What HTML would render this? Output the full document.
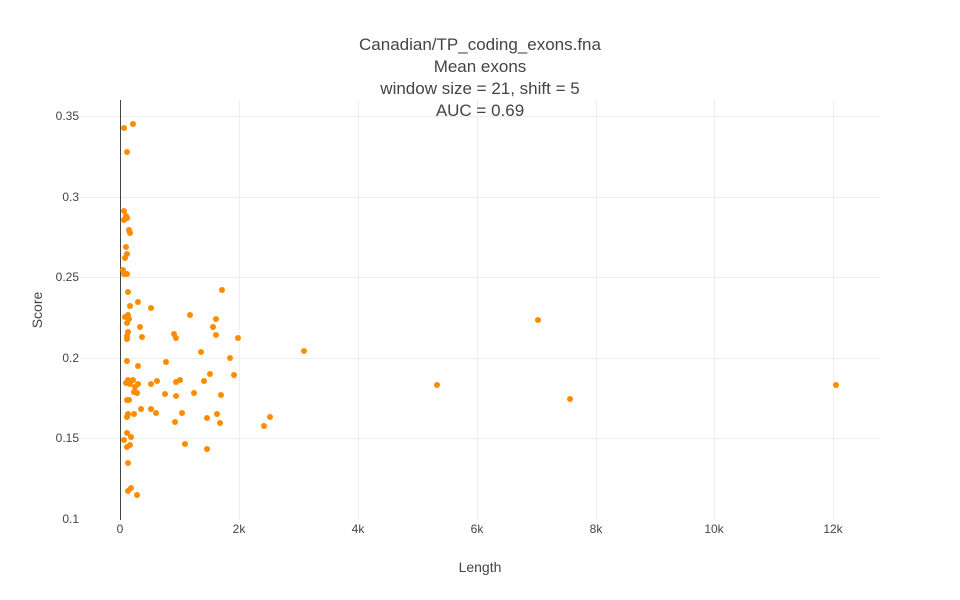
<!DOCTYPE html><html><head><style>body{margin:0;background:#fff}svg{display:block;font-family:"Liberation Sans",sans-serif}</style></head><body>
<svg width="960" height="600" xmlns="http://www.w3.org/2000/svg">
<g stroke="#eee" stroke-width="1">
<line x1="80" x2="880" y1="116.5" y2="116.5"/><line x1="80" x2="880" y1="197.5" y2="197.5"/><line x1="80" x2="880" y1="277.5" y2="277.5"/><line x1="80" x2="880" y1="358.5" y2="358.5"/><line x1="80" x2="880" y1="438.5" y2="438.5"/>
<line x1="239.5" x2="239.5" y1="100" y2="520"/><line x1="358.5" x2="358.5" y1="100" y2="520"/><line x1="477.5" x2="477.5" y1="100" y2="520"/><line x1="596.5" x2="596.5" y1="100" y2="520"/><line x1="714.5" x2="714.5" y1="100" y2="520"/><line x1="833.5" x2="833.5" y1="100" y2="520"/>
</g>
<line x1="120.5" x2="120.5" y1="100" y2="520" stroke="#444" stroke-width="1"/>
<g font-size="12" fill="#444" text-anchor="end">
<text x="79" y="120">0.35</text><text x="79" y="201">0.3</text><text x="79" y="281">0.25</text><text x="79" y="362">0.2</text><text x="79" y="442">0.15</text><text x="79" y="523">0.1</text></g>
<g font-size="12" fill="#444" text-anchor="middle">
<text x="120" y="533">0</text><text x="239" y="533">2k</text><text x="358" y="533">4k</text><text x="477" y="533">6k</text><text x="596" y="533">8k</text><text x="714" y="533">10k</text><text x="833" y="533">12k</text></g>
<text x="480" y="572" font-size="14" fill="#444" text-anchor="middle">Length</text>
<text transform="translate(42,310) rotate(-90)" font-size="14" fill="#444" text-anchor="middle">Score</text>
<g font-size="17" fill="#444" text-anchor="middle">
<text x="480" y="50">Canadian/TP_coding_exons.fna</text><text x="480" y="72">Mean exons</text><text x="480" y="94">window size = 21, shift = 5</text><text x="480" y="116">AUC = 0.69</text></g>
<g fill="#ff8c00">
<circle cx="124" cy="128" r="3"/><circle cx="133" cy="124" r="3"/><circle cx="127" cy="152" r="3"/><circle cx="124" cy="211" r="3"/><circle cx="125" cy="219" r="3"/><circle cx="126" cy="216" r="3"/><circle cx="127" cy="218" r="3"/><circle cx="124" cy="220" r="3"/><circle cx="129" cy="230" r="3"/><circle cx="130" cy="233" r="3"/><circle cx="126" cy="247" r="3"/><circle cx="127" cy="254" r="3"/><circle cx="125" cy="258" r="3"/><circle cx="123" cy="270" r="3"/><circle cx="124" cy="274" r="3"/><circle cx="127" cy="274" r="3"/><circle cx="128" cy="292" r="3"/><circle cx="130" cy="306" r="3"/><circle cx="138" cy="302" r="3"/><circle cx="151" cy="308" r="3"/><circle cx="125" cy="317" r="3"/><circle cx="128" cy="315" r="3"/><circle cx="129" cy="319" r="3"/><circle cx="127" cy="323" r="3"/><circle cx="128" cy="332" r="3"/><circle cx="127" cy="336" r="3"/><circle cx="140" cy="327" r="3"/><circle cx="142" cy="337" r="3"/><circle cx="127" cy="339" r="3"/><circle cx="174" cy="334" r="3"/><circle cx="176" cy="338" r="3"/><circle cx="190" cy="315" r="3"/><circle cx="216" cy="319" r="3"/><circle cx="213" cy="327" r="3"/><circle cx="216" cy="335" r="3"/><circle cx="222" cy="290" r="3"/><circle cx="238" cy="338" r="3"/><circle cx="127" cy="361" r="3"/><circle cx="138" cy="366" r="3"/><circle cx="166" cy="362" r="3"/><circle cx="201" cy="352" r="3"/><circle cx="230" cy="358" r="3"/><circle cx="234" cy="375" r="3"/><circle cx="210" cy="374" r="3"/><circle cx="204" cy="381" r="3"/><circle cx="176" cy="382" r="3"/><circle cx="180" cy="380" r="3"/><circle cx="157" cy="381" r="3"/><circle cx="151" cy="384" r="3"/><circle cx="138" cy="384" r="3"/><circle cx="133" cy="380" r="3"/><circle cx="128" cy="380" r="3"/><circle cx="130" cy="384" r="3"/><circle cx="126" cy="383" r="3"/><circle cx="135" cy="387" r="3"/><circle cx="134" cy="392" r="3"/><circle cx="137" cy="393" r="3"/><circle cx="165" cy="394" r="3"/><circle cx="176" cy="396" r="3"/><circle cx="194" cy="393" r="3"/><circle cx="221" cy="395" r="3"/><circle cx="127" cy="400" r="3"/><circle cx="129" cy="400" r="3"/><circle cx="141" cy="409" r="3"/><circle cx="151" cy="409" r="3"/><circle cx="156" cy="413" r="3"/><circle cx="182" cy="413" r="3"/><circle cx="134" cy="414" r="3"/><circle cx="128" cy="414" r="3"/><circle cx="127" cy="417" r="3"/><circle cx="217" cy="414" r="3"/><circle cx="207" cy="418" r="3"/><circle cx="175" cy="422" r="3"/><circle cx="220" cy="423" r="3"/><circle cx="264" cy="426" r="3"/><circle cx="270" cy="417" r="3"/><circle cx="127" cy="433" r="3"/><circle cx="131" cy="437" r="3"/><circle cx="124" cy="440" r="3"/><circle cx="127" cy="447" r="3"/><circle cx="130" cy="445" r="3"/><circle cx="185" cy="444" r="3"/><circle cx="207" cy="449" r="3"/><circle cx="128" cy="463" r="3"/><circle cx="131" cy="488" r="3"/><circle cx="128" cy="491" r="3"/><circle cx="137" cy="495" r="3"/><circle cx="304" cy="351" r="3"/><circle cx="437" cy="385" r="3"/><circle cx="538" cy="320" r="3"/><circle cx="570" cy="399" r="3"/><circle cx="836" cy="385" r="3"/>
</g>
</svg></body></html>
